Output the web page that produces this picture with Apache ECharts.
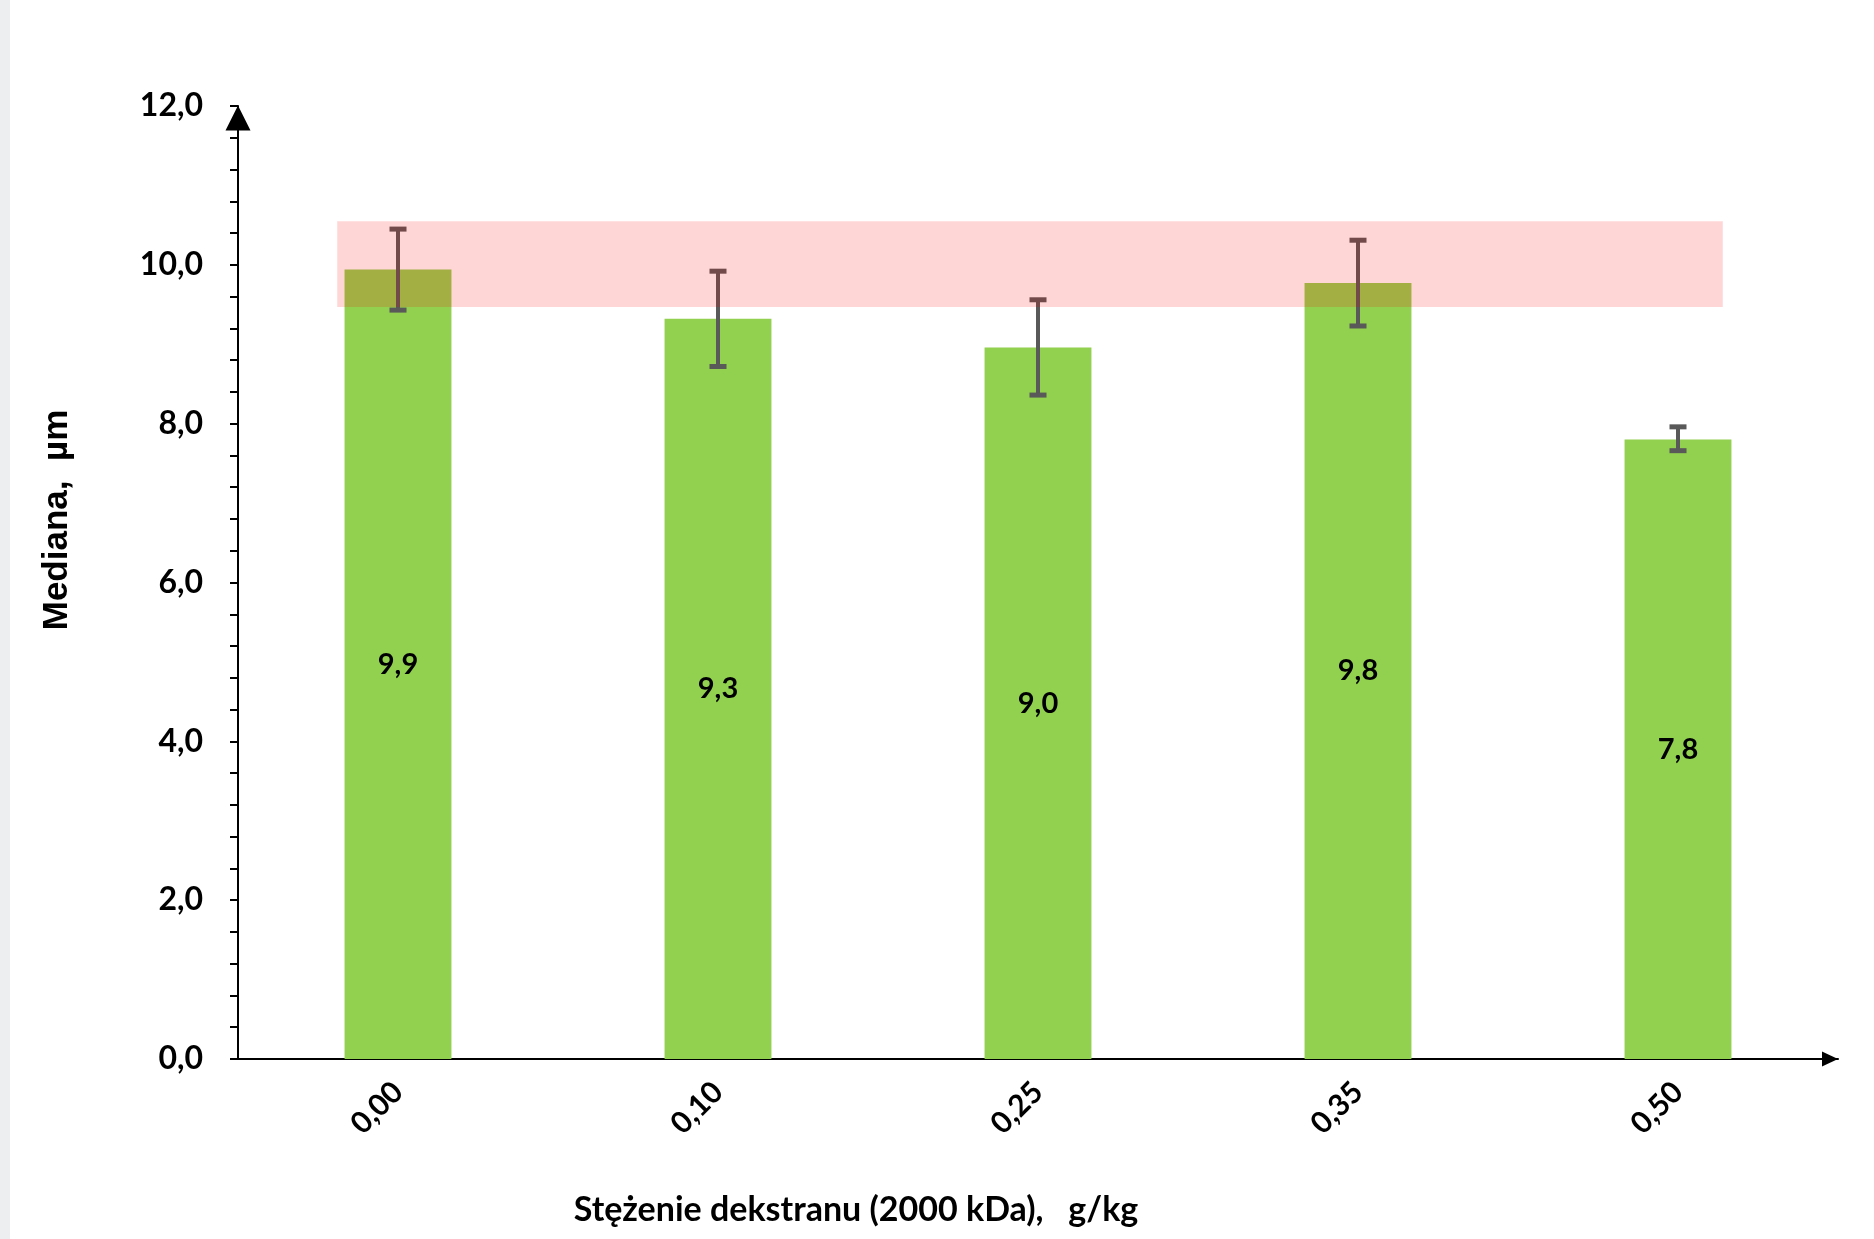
<!DOCTYPE html>
<html>
<head>
<meta charset="utf-8">
<script src="https://cdn.jsdelivr.net/npm/echarts@6/dist/echarts.min.js"></script>
<style>html,body{margin:0;padding:0;background:#fff}#c{width:1874px;height:1239px}</style>
</head>
<body>
<div id="c"></div>
<script>
const categories = ['0,00', '0,10', '0,25', '0,35', '0,50'];
const medians = [9.94, 9.32, 8.96, 9.77, 7.80];
const errLow = [9.43, 8.72, 8.36, 9.23, 7.66];
const errHigh = [10.45, 9.92, 9.56, 10.31, 7.96];
const bandY = [9.47, 10.55];
const bandX = [-0.19, 4.14];
const yMin = 0, yMax = 12, yStep = 2;
const xTitle = 'Stężenie dekstranu (2000 kDa),   g/kg';
const yTitle = 'Mediana,  µm';

const fmt = v => v.toFixed(1).replace('.', ',');
const calib = 'Lato';

const chart = echarts.init(document.getElementById('c'), null, {renderer: 'canvas'});
chart.setOption({
  animation: false,
  backgroundColor: '#ffffff',
  grid: {left: 238, right: 36, top: 106, bottom: 180, containLabel: false},
  graphic: [
    {type: 'rect', shape: {x: 0, y: 0, width: 10, height: 1239}, style: {fill: '#eceeef'}, z: -1},
    {type: 'text', x: 57, y: 520, rotation: Math.PI / 2,
     style: {text: yTitle, font: 'bold 35px "Liberation Sans", Arial', fill: '#000', textAlign: 'center', textVerticalAlign: 'middle'}},
    {type: 'text', x: 856, y: 1210,
     style: {text: xTitle, font: 'bold 34px Lato', fill: '#000', textAlign: 'center', textVerticalAlign: 'middle'}}
  ],
  xAxis: [
    {type: 'category', data: categories,
     axisLine: {onZero: false, lineStyle: {color: '#000', width: 2}, symbol: ['none', 'triangle'], symbolSize: [15, 16], symbolOffset: [0, -8]},
     axisTick: {show: false},
     axisLabel: {rotate: 45, margin: 28, interval: 0, color: '#000', fontFamily: calib, fontWeight: 'bold', fontSize: 30}},
    {type: 'value', min: -0.5, max: 4.5, show: false}
  ],
  yAxis: {
    type: 'value', min: yMin, max: yMax, interval: yStep,
    axisLine: {show: true, onZero: false, lineStyle: {color: '#000', width: 2}, symbol: ['none', 'triangle'], symbolSize: [25, 25], symbolOffset: [0, -12]},
    axisTick: {show: true, length: 8, lineStyle: {color: '#000', width: 2}},
    minorTick: {show: true, splitNumber: 5, length: 8, lineStyle: {color: '#000', width: 2}},
    splitLine: {show: false},
    axisLabel: {margin: 35, color: '#000', fontFamily: calib, fontWeight: 'bold', fontSize: 32, formatter: fmt}
  },
  series: [
    {type: 'bar', data: medians, barWidth: '33.4%', itemStyle: {color: '#92D050'}, z: 2,
     label: {show: true, position: 'inside', color: '#000', fontFamily: calib, fontWeight: 'bold', fontSize: 29,
             formatter: p => fmt(p.value)}},
    {type: 'custom', z: 3,
     data: categories.map((c, i) => [i, errLow[i], errHigh[i]]),
     encode: {x: 0, y: [1, 2]},
     renderItem: function (params, api) {
       const i = api.value(0);
       const lo = api.coord([i, api.value(1)]);
       const hi = api.coord([i, api.value(2)]);
       const cw = 8.5;
       const st = {stroke: '#595959', lineWidth: 4};
       const cs = {stroke: '#595959', lineWidth: 5};
       return {type: 'group', children: [
         {type: 'line', shape: {x1: lo[0], y1: lo[1], x2: hi[0], y2: hi[1]}, style: st},
         {type: 'line', shape: {x1: lo[0] - cw, y1: lo[1], x2: lo[0] + cw, y2: lo[1]}, style: cs},
         {type: 'line', shape: {x1: hi[0] - cw, y1: hi[1], x2: hi[0] + cw, y2: hi[1]}, style: cs}
       ]};
     }},
    {type: 'custom', xAxisIndex: 1, z: 5, clip: false,
     data: [[bandX[0], bandY[0], bandX[1], bandY[1]]],
     encode: {x: [0, 2], y: [1, 3]},
     renderItem: function (params, api) {
       const p1 = api.coord([api.value(0), api.value(3)]);
       const p2 = api.coord([api.value(2), api.value(1)]);
       return {type: 'rect', shape: {x: p1[0], y: p1[1], width: p2[0] - p1[0], height: p2[1] - p1[1]},
               style: {fill: 'rgba(255,0,0,0.16)'}};
     }}
  ]
});
</script>
</body>
</html>
